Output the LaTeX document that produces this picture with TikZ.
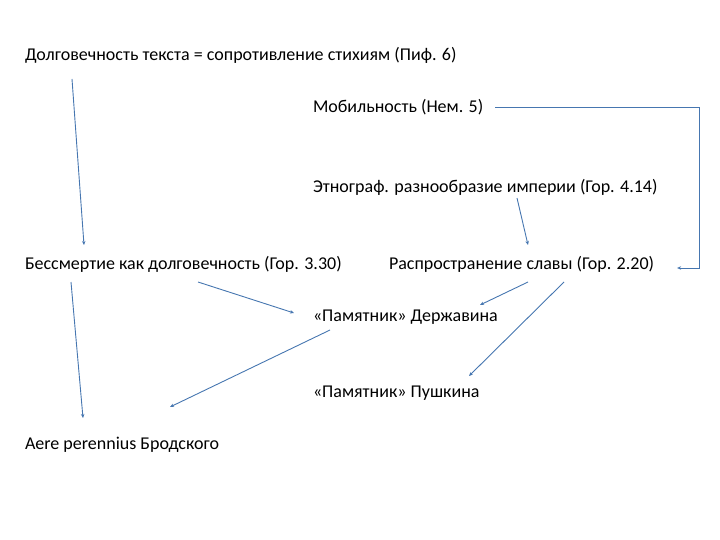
\documentclass[tikz,border=0pt]{standalone}
\usepackage{fontspec}
\setmainfont{Carlito}
\usetikzlibrary{arrows.meta}

\begin{document}
\begin{tikzpicture}[x={(1pt,0pt)}, y={(0pt,-1pt)},
    %Option for nice arrows
    >={Stealth[length=4pt,width=3.5pt]}, %
    inner sep=0pt, outer sep=0pt,%
    theme/.style={anchor=west, font=\fontsize{18}{21}\selectfont},
    link/.style={->, color=linkblue, line width=0.9pt},
]
    % Colors
    \definecolor{linkblue}{RGB}{70,118,176}

    % Frame
    \useasboundingbox (0,0) rectangle (720,540);

    % Themes
    \node[theme] (dolg)   at (25,55)  {Долговечность текста = сопротивление стихиям (Пиф. 6)};
    \node[theme] (mob)    at (313,107) {Мобильность (Нем. 5)};
    \node[theme] (etno)   at (313,187) {Этнограф. разнообразие империи (Гор. 4.14)};
    \node[theme] (bess)   at (25,264)  {Бессмертие как долговечность (Гор. 3.30)};
    \node[theme] (rasp)   at (389,264) {Распространение славы (Гор. 2.20)};
    \node[theme] (derzh)  at (313,317) {«Памятник» Державина};
    \node[theme] (push)   at (313,393) {«Памятник» Пушкина};
    \node[theme] (aere)   at (25,445)  {Aere perennius Бродского};

    % Links
    \draw[link] ([shift={(47,24)}]dolg.west) -- ([shift={(59,-19)}]bess.west);
    \draw[link] ([shift={(12,0)}]mob.east) -- ++(204,0) |- ([shift={(23,4)}]rasp.east);
    \draw[link] ([shift={(204,11)}]etno.west) -- ([shift={(139,-19)}]rasp.west);
    \draw[link] ([shift={(46,18)}]bess.west) -- ([shift={(58,-27)}]aere.west);
    \draw[link] ([shift={(173,18)}]bess.west) -- ([shift={(-19,-4)}]derzh.west);
    \draw[link] ([shift={(139,18)}]rasp.west) -- ([shift={(167,-12)}]derzh.west);
    \draw[link] ([shift={(175,18)}]rasp.west) -- ([shift={(156,-17)}]push.west);
    \draw[link] ([shift={(17,13)}]derzh.west) -- ([shift={(145,-38)}]aere.west);
\end{tikzpicture}
\end{document}
